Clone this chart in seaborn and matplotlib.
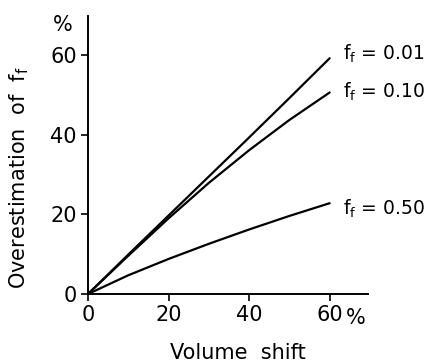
import matplotlib.pyplot as plt
import numpy as np
import pandas as pd
import seaborn as sns

# values
volume_shift = [0, 10, 20, 30, 40, 50, 60]
over_001 = [0, 9.9, 19.7, 29.5, 39.3, 49.2, 59.2]
over_010 = [0, 9.6, 19.0, 27.9, 36.1, 43.7, 50.6]
over_050 = [0, 4.7, 8.8, 12.6, 16.2, 19.6, 22.8]
series_names = ["0.01", "0.10", "0.50"]
xticks = [0, 20, 40, 60]
xticklabels = ["0", "20", "40", "60"]
yticks = [0, 20, 40, 60]

df = pd.DataFrame({
    "shift": volume_shift * 3,
    "over": over_001 + over_010 + over_050,
    "ff": np.repeat(series_names, len(volume_shift)),
})

sns.set_style("ticks")
plt.rcParams['font.family'] = ['DejaVu Sans']
plt.rcParams['text.color'] = 'black'
plt.rcParams['axes.labelcolor'] = 'black'
plt.rcParams['xtick.color'] = 'black'
plt.rcParams['ytick.color'] = 'black'
plt.rcParams['axes.edgecolor'] = 'black'

fig = plt.figure(figsize=(4.32, 3.64), dpi=100)
ax = fig.add_axes([0.2037, 0.1923, 0.648, 0.7637])

sns.lineplot(data=df, x="shift", y="over", hue="ff",
             palette=["black"] * 3, linewidth=1.6, legend=False, ax=ax)

ax.set_xlim(0, 69.5)
ax.set_ylim(0, 69.8)
ax.set_xticks(xticks)
ax.set_xticklabels(xticklabels)
ax.set_yticks(yticks)
sns.despine(ax=ax)
for s in ["left", "bottom"]:
    ax.spines[s].set_linewidth(1.4)
ax.tick_params(axis="both", labelsize=15, width=1.2, length=5, pad=3)

ax.set_xlabel("Volume  shift", fontsize=15)
ax.set_ylabel(r"Overestimation  of  f$_\mathregular{f}$", fontsize=15)
ax.xaxis.set_label_coords(0.536, -0.176)
ax.yaxis.set_label_coords(-0.204, 0.417)

# unit marks
ax.text(-0.089, 0.968, "%", transform=ax.transAxes, fontsize=15,
        ha="center", va="center")
ax.text(66.4, -6.0, "%", fontsize=15, ha="center", va="center", clip_on=False)

# curve labels
label_y = {"0.01": 58.8, "0.10": 49.2, "0.50": 19.8}
for name in series_names:
    ax.text(63.4, label_y[name], r"f$_\mathregular{f}$ = " + name,
            fontsize=13.5, ha="left", va="baseline", clip_on=False)

plt.savefig("out.png", dpi=100)
